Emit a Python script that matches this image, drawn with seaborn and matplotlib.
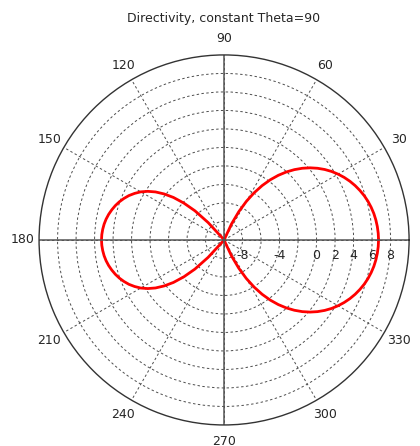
import numpy as np
import pandas as pd
import seaborn as sns
import matplotlib.pyplot as plt
from matplotlib.transforms import ScaledTranslation

phi_deg = np.arange(0, 362.5, 2.5)
directivity_db = [
    # 0 .. 87.5
    6.70, 6.68, 6.63, 6.55, 6.44, 6.29, 6.11, 5.89, 5.63, 5.34, 5.01, 4.64,
    4.23, 3.78, 3.28, 2.73, 2.13, 1.47, 0.75, -0.03, -0.88, -1.81, -2.83, -3.96,
    -5.19, -6.56, -8.07, -9.78, -11.7, -13.9, -16, -19, -22, -26, -30, -35,
    # 90 .. 177.5
    -40, -39.5, -39, -38, -36.5, -35, -33, -31, -29, -27, -25, -22.5,
    -20, -18, -15.5, -12.75, -9.75, -7.45, -5.55, -4.1, -2.85, -1.83, -0.95, -0.22,
    0.4, 0.9, 1.35, 1.72, 2.05, 2.33, 2.57, 2.78, 2.95, 3.08, 3.17, 3.23,
    # 180 .. 267.5
    3.25, 3.23, 3.17, 3.08, 2.95, 2.78, 2.57, 2.33, 2.05, 1.72, 1.35, 0.9,
    0.4, -0.22, -0.95, -1.83, -2.85, -4.1, -5.55, -7.45, -9.75, -12.75, -15.5, -18,
    -20, -22.5, -25, -27, -29, -31, -33, -35, -36.5, -38, -39, -39.5,
    # 270 .. 360
    -40, -35, -30, -26, -22, -19, -16, -13.9, -11.7, -9.78, -8.07, -6.56,
    -5.19, -3.96, -2.83, -1.81, -0.88, -0.03, 0.75, 1.47, 2.13, 2.73, 3.28, 3.78,
    4.23, 4.64, 5.01, 5.34, 5.63, 5.89, 6.11, 6.29, 6.44, 6.55, 6.63, 6.68,
    6.70,
]

r_ticks = [-8, -6, -4, -2, 0, 2, 4, 6, 8]
r_labels = ['-8', '', '-4', '', '0', '2', '4', '6', '8']
theta_ticks = [0, 30, 60, 90, 120, 150, 180, 210, 240, 270, 300, 330]

r_min, r_max = -10, 10

# anything below the inner limit sits at the centre of the plot
df = pd.DataFrame({'phi': np.deg2rad(phi_deg),
                   'D': np.clip(directivity_db, r_min, None)})

sns.set_theme(style='white')
plt.rcParams['font.family'] = ['DejaVu Sans']

fig = plt.figure(figsize=(4.2, 4.46), dpi=100)
ax = fig.add_axes([0.093, 0.047, 0.881, 0.83], projection='polar')

sns.lineplot(data=df, x='phi', y='D', sort=False, estimator=None,
             color='#ff0000', lw=2, ax=ax)

ax.set_ylim(r_min, r_max)
ax.set_yticks(r_ticks)
ax.set_yticklabels(r_labels, fontsize=9)
ax.set_rlabel_position(0)
# radial labels sit in a row just under the 0 deg axis
shift_down = ScaledTranslation(0, -6.5 / 72, fig.dpi_scale_trans)
for lab in ax.get_yticklabels():
    lab.set_ha('center')
    lab.set_va('top')
    lab.set_transform(lab.get_transform() + shift_down)

ax.set_xticks(np.deg2rad(theta_ticks))
ax.set_xticklabels([str(t) for t in theta_ticks], fontsize=9)
ax.tick_params(axis='x', pad=-1)

ax.grid(True, color='#4d4d4d', linestyle=(0, (2.5, 2.5)), lw=0.7)
for a in [0, 90, 180, 270]:
    ax.axvline(np.deg2rad(a), color='#555555', lw=1.1)
ax.spines['polar'].set_color('#333333')
ax.spines['polar'].set_linewidth(1)

ax.set_xlabel('')
ax.set_ylabel('')
fig.text(0.533, 0.958, 'Directivity, constant Theta=90', ha='center', va='center', fontsize=9)

fig.savefig('out.png', dpi=100)
